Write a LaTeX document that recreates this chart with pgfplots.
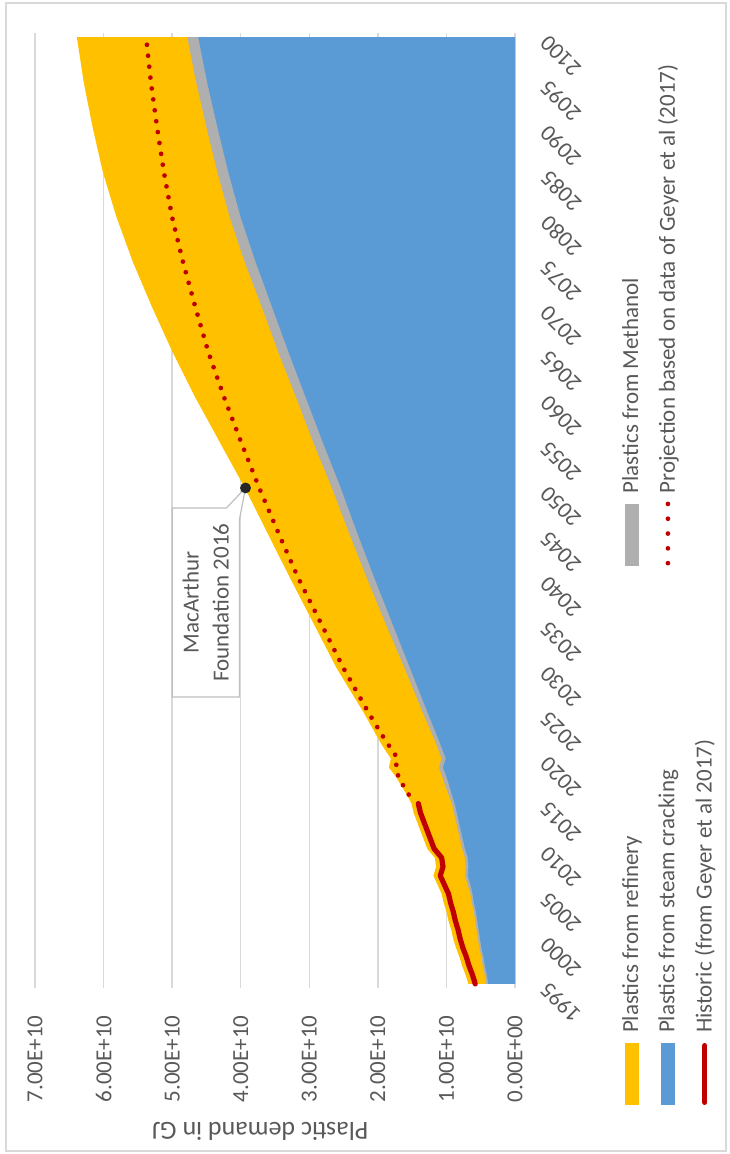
\documentclass[border=0pt]{standalone}
\usepackage{fontspec}
\setmainfont{Carlito}
\usepackage{pgfplots}
\usepackage{pgfplotstable}
\pgfplotsset{compat=1.18}

\definecolor{cYellow}{HTML}{FFC000}
\definecolor{cBlue}{HTML}{5B9BD5}
\definecolor{cGray}{HTML}{AFAFAF}
\definecolor{cRed}{HTML}{C00000}
\definecolor{cGrid}{HTML}{D9D9D9}
\definecolor{cText}{HTML}{595959}
\definecolor{cDot}{HTML}{262626}
\definecolor{cBox}{HTML}{BFBFBF}

% values in units of 1E+10 GJ
% total = top of the refinery band (refinery + methanol + steam cracking)
\pgfplotstableread{
year v
1995 0.68
1996 0.72
1997 0.77
1998 0.81
1999 0.86
2000 0.90
2001 0.93
2002 0.97
2003 1.00
2004 1.04
2005 1.07
2006 1.13
2007 1.19
2008 1.15
2009 1.17
2010 1.28
2011 1.33
2012 1.38
2013 1.43
2014 1.48
2015 1.51
2016 1.58
2017 1.66
2018 1.74
2019 1.84
2020 1.81
2021 1.90
2022 1.98
2025 2.20
2030 2.60
2035 2.94
2040 3.28
2045 3.61
2050 3.94
2055 4.30
2060 4.66
2065 4.99
2070 5.29
2075 5.57
2080 5.81
2085 6.01
2090 6.16
2095 6.29
2100 6.39
}\tTotal

% top of the methanol band (methanol + steam cracking)
\pgfplotstableread{
year v
1995 0.42
1996 0.44
1997 0.47
1998 0.49
1999 0.52
2000 0.54
2001 0.56
2002 0.58
2003 0.60
2004 0.63
2005 0.65
2006 0.69
2007 0.73
2008 0.72
2009 0.73
2010 0.77
2011 0.80
2012 0.83
2013 0.86
2014 0.89
2015 0.92
2016 0.97
2017 1.02
2018 1.06
2019 1.11
2020 1.07
2021 1.12
2022 1.17
2025 1.34
2030 1.61
2035 1.89
2040 2.16
2045 2.42
2050 2.67
2055 2.94
2060 3.19
2065 3.45
2070 3.69
2075 3.94
2080 4.16
2085 4.34
2090 4.50
2095 4.65
2100 4.78
}\tMeth

% steam cracking
\pgfplotstableread{
year v
1995 0.39
1996 0.41
1997 0.44
1998 0.46
1999 0.49
2000 0.51
2001 0.53
2002 0.55
2003 0.57
2004 0.60
2005 0.62
2006 0.65
2007 0.69
2008 0.68
2009 0.69
2010 0.73
2011 0.76
2012 0.79
2013 0.82
2014 0.85
2015 0.88
2016 0.92
2017 0.96
2018 1.00
2019 1.05
2020 1.01
2021 1.06
2022 1.11
2025 1.27
2030 1.53
2035 1.79
2040 2.05
2045 2.30
2050 2.54
2055 2.80
2060 3.05
2065 3.30
2070 3.54
2075 3.78
2080 4.00
2085 4.18
2090 4.34
2095 4.49
2100 4.62
}\tSteam

% historic (Geyer et al 2017)
\pgfplotstableread{
year v
1995 0.58
1996 0.62
1997 0.67
1998 0.71
1999 0.76
2000 0.80
2001 0.83
2002 0.87
2003 0.90
2004 0.94
2005 0.97
2006 1.03
2007 1.09
2008 1.05
2009 1.07
2010 1.18
2011 1.23
2012 1.28
2013 1.33
2014 1.38
2015 1.41
}\tHist

% projection
\pgfplotstableread{
year v
2016 1.55
2017 1.63
2018 1.70
2019 1.74
2020 1.71
2021 1.80
2022 1.89
2025 2.13
2030 2.50
2035 2.83
2040 3.16
2045 3.45
2050 3.73
2055 3.99
2060 4.24
2065 4.47
2070 4.66
2075 4.84
2080 5.00
2085 5.12
2090 5.22
2095 5.31
2100 5.38
}\tProj

\begin{document}
\begin{tikzpicture}
\useasboundingbox (-257.5pt,-83pt) rectangle (107pt,494pt);
\begin{scope}[transform canvas={rotate=90}]
% chart frame
\draw[cGrid, line width=0.75pt] (-81.5pt,-105.5pt) rectangle (492.5pt,254.5pt);
\begin{axis}[
    at={(0pt,0pt)}, anchor=south west,
    scale only axis,
    width=477.5pt, height=240pt,
    xmin=1994.55, xmax=2100.45,
    ymin=0, ymax=7,
    axis x line*=bottom,
    axis y line*=left,
    y axis line style={draw=none},
    x axis line style={cGrid, line width=0.75pt},
    ymajorgrids,
    grid style={cGrid, line width=0.75pt},
    major tick length=0pt,
    xtick={1995,2000,...,2100},
    xticklabels={1995,2000,2005,2010,2015,2020,2025,2030,2035,2040,2045,2050,2055,2060,2065,2070,2075,2080,2085,2090,2095,2100},
    ytick={0,1,...,7},
    yticklabels={0.00E+00,1.00E+10,2.00E+10,3.00E+10,4.00E+10,5.00E+10,6.00E+10,7.00E+10},
    tick label style={font=\fontsize{11.5}{13}\selectfont, text=cText},
    xticklabel style={yshift=-14.5pt, xshift=-1pt, rotate=45, anchor=east, inner sep=0pt},
    yticklabel style={anchor=east, inner sep=0pt, xshift=-13.5pt},
    ylabel={Plastic demand in GJ},
    ylabel style={at={(axis description cs:-0.1497,0.531)}, anchor=center,
        font=\fontsize{13}{15}\selectfont, text=cText},
    legend columns=2,
    legend cell align=left,
    legend style={draw=none, fill=none, inner sep=0pt, outer sep=0pt,
        at={(axis description cs:-0.1225,-0.223)}, anchor=north west,
        font=\fontsize{11.5}{13}\selectfont, text=cText,
        row sep=8.5pt,
        nodes={inner sep=0pt},
        /tikz/column 1/.style={column sep=5pt},
        /tikz/column 2/.style={column sep=87pt},
        /tikz/column 3/.style={column sep=4pt}},
]

\addplot[fill=cYellow, draw=none, forget plot] table[x=year, y=v] {\tTotal} \closedcycle;
\addplot[fill=cGray, draw=none, forget plot] table[x=year, y=v] {\tMeth} \closedcycle;
\addplot[fill=cBlue, draw=none, forget plot] table[x=year, y=v] {\tSteam} \closedcycle;

\addplot[cRed, line width=2.6pt, line cap=round, line join=round, forget plot]
    table[x=year, y=v] {\tHist};
\addplot[cRed, line width=2.35pt, line cap=round, dash pattern=on 0pt off 5.5pt, forget plot]
    table[x=year, y=v] {\tProj};

% MacArthur Foundation 2016 estimate for 2050
\addplot[only marks, mark=*, mark size=2.5pt, mark options={fill=cDot, draw=cDot}, forget plot]
    coordinates {(2050,3.93)};

% callout
\draw[cBox, fill=white, line width=0.6pt]
    (axis cs:2026.82,5.00) -- (axis cs:2047.77,5.00) -- (axis cs:2047.77,4.21)
    -- (axis cs:2050,3.93) -- (axis cs:2046.44,4.02) -- (axis cs:2026.82,4.02) -- cycle;
\node[align=center, text=cText, font=\fontsize{11.5}{15}\selectfont]
    at (axis cs:2037.3,4.51) {MacArthur\\Foundation 2016};

% legend
\addlegendimage{draw=none, legend image code/.code={\fill[cYellow] (0pt,-3.5pt) rectangle (31pt,3.5pt);}}
\addlegendentry{Plastics from refinery}
\addlegendimage{draw=none, legend image code/.code={\fill[cGray] (0pt,-3.5pt) rectangle (31pt,3.5pt);}}
\addlegendentry{Plastics from Methanol}
\addlegendimage{draw=none, legend image code/.code={\fill[cBlue] (0pt,-3.5pt) rectangle (31pt,3.5pt);}}
\addlegendentry{Plastics from steam cracking}
\addlegendimage{draw=none, legend image code/.code={\path[draw=none, fill=none] (0pt,-3.5pt) rectangle (31pt,3.5pt);
    \draw[cRed, line width=2.35pt, line cap=round, dash pattern=on 0pt off 7.4pt] (1.2pt,0pt) -- (31pt,0pt);}}
\addlegendentry{Projection based on data of Geyer et al (2017)}
\addlegendimage{draw=none, legend image code/.code={\path[draw=none, fill=none] (0pt,-3.5pt) rectangle (31pt,3.5pt);
    \draw[cRed, line width=2.6pt, line cap=round] (1.3pt,0pt) -- (29.7pt,0pt);}}
\addlegendentry{Historic (from Geyer et al 2017)}
\end{axis}
\end{scope}
\end{tikzpicture}
\end{document}
